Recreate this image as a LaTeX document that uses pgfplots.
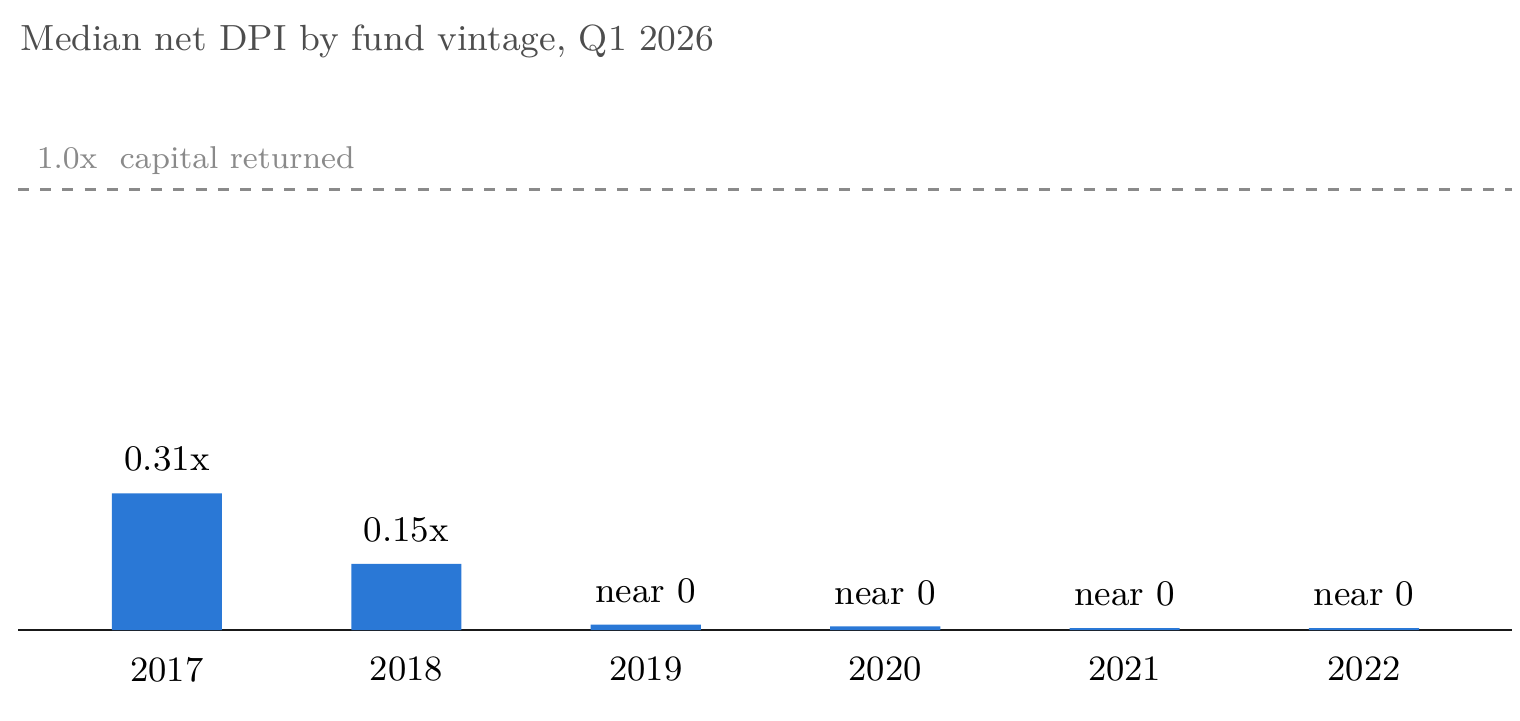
\documentclass[border=0pt]{standalone}
\usepackage{pgfplots}
\pgfplotsset{compat=1.18}
\definecolor{barblue}{RGB}{42,120,214}
\definecolor{titlegray}{RGB}{77,77,77}
\definecolor{refgray}{RGB}{138,138,138}

\begin{document}
\begin{tikzpicture}
    \useasboundingbox (0,0) rectangle (380pt,180pt);

    % title
    \node[anchor=base west, text=titlegray, inner sep=0pt, font=\fontsize{9.1}{11}\selectfont]
        at (5pt,167.5pt) {Median net DPI by fund vintage, Q1 2026};

    \begin{axis}[
        at={(4.5pt,22.5pt)},
        anchor=south west,
        scale only axis,
        width=373.5pt,
        height=132.5pt,
        xmin=-0.622, xmax=5.618,
        ymin=0, ymax=1.2018,
        axis x line=bottom,
        axis y line=none,
        axis line style={line width=0.6pt, black!90, -},
        xtick={0,1,2,3,4,5},
        xticklabels={2017,2018,2019,2020,2021,2022},
        major tick length=0pt,
        xticklabel style={yshift=-3.25pt, font=\fontsize{8.9}{11}\selectfont},
        clip=false,
    ]
        \addplot[
            ybar,
            bar width=0.46,
            fill=barblue,
            draw=none,
            point meta=explicit symbolic,
            nodes near coords,
            every node near coord/.append style={font=\fontsize{9}{11}\selectfont, text=black, yshift=1.85pt},
        ] coordinates {
            (0,0.31)  [0.31x]
            (1,0.15)  [0.15x]
            (2,0.012) [near 0]
            (3,0.008) [near 0]
            (4,0.004) [near 0]
            (5,0.004) [near 0]
        };

        % reference line at 1.0x
        \addplot[refgray, line width=0.7pt, dash pattern=on 2.75pt off 2.8pt] coordinates {(-0.622,0.998) (5.618,0.998)};
        \node[anchor=base west, inner sep=0pt, text=refgray, font=\fontsize{7.9}{10}\selectfont,
              xshift=4.5pt, yshift=5pt] at (axis cs:-0.622,1) {1.0x\ \ capital returned};
    \end{axis}
\end{tikzpicture}
\end{document}
